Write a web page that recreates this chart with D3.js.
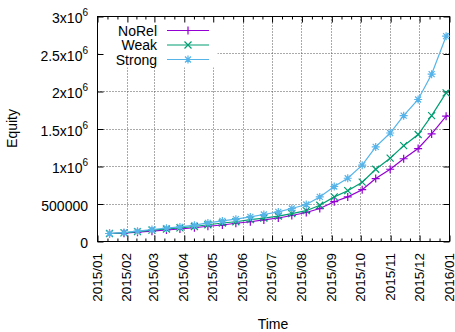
<!DOCTYPE html>
<html>
<head>
<meta charset="utf-8">
<script src="https://cdn.jsdelivr.net/npm/d3@7"></script>
<style>
  body { margin: 0; background: #fff; }
  svg { display: block; font-family: "Liberation Sans", Arial, sans-serif; }
</style>
</head>
<body>
<svg id="chart" width="455" height="332"></svg>
<script>
// Sample dates (roughly every two weeks), last one is the year end
const dates = [
  "2015-01-14", "2015-01-29", "2015-02-12", "2015-02-27", "2015-03-14", "2015-03-28",
  "2015-04-12", "2015-04-26", "2015-05-11", "2015-05-25", "2015-06-09", "2015-06-23",
  "2015-07-08", "2015-07-22", "2015-08-06", "2015-08-20", "2015-09-04", "2015-09-18",
  "2015-10-03", "2015-10-17", "2015-11-01", "2015-11-15", "2015-11-30", "2015-12-14",
  "2015-12-29", "2015-12-31"
];

// Equity series
const noRel = [
  100000, 104000, 117000, 131000, 147000, 160000, 177000, 197000, 213000, 237000,
  257000, 281000, 307000, 340000, 380000, 433000, 524000, 588000, 684000, 833000,
  957000, 1097000, 1233000, 1428000, 1664000, 1677000
];
const weak = [
  100000, 108000, 124000, 144000, 160000, 175000, 193000, 217000, 240000, 257000,
  284000, 304000, 331000, 364000, 404000, 477000, 588000, 671000, 784000, 957000,
  1104000, 1271000, 1420000, 1671000, 1975000, 2011000
];
const strong = [
  100000, 113000, 131000, 153000, 171000, 188000, 211000, 241000, 268000, 291000,
  321000, 353000, 388000, 433000, 487000, 588000, 727000, 837000, 1011000, 1255000,
  1440000, 1671000, 1887000, 2224000, 2731000, 2771000
];

const seriesNames = ["NoRel", "Weak", "Strong"];
const yTicks = [0, 500000, 1000000, 1500000, 2000000, 2500000, 3000000];

const colors = ["#9400d3", "#009e73", "#56b4e9"];
const markerPaths = [
  "M-4,0H4M0,-4V4",
  "M-3.5,-3.5L3.5,3.5M-3.5,3.5L3.5,-3.5",
  "M-4,0H4M0,-4V4M-3,-3L3,3M-3,3L3,-3"
];

const margin = { left: 97, right: 449, top: 16, bottom: 241 };
const parse = d3.timeParse("%Y-%m-%d");

const x = d3.scaleTime()
  .domain([new Date(2015, 0, 1), new Date(2016, 0, 1)])
  .range([margin.left, margin.right]);
const y = d3.scaleLinear()
  .domain([0, 3000000])
  .range([margin.bottom, margin.top]);

const svg = d3.select("#chart");
const g = svg.append("g").attr("transform", "translate(0.5,0.5)");

const months = d3.timeMonth.range(new Date(2015, 0, 1), new Date(2016, 0, 2));

// minor ticks: each month split in thirds
const minorTicks = [];
months.slice(0, -1).forEach((m) => {
  const next = d3.timeMonth.offset(m, 1);
  const span = next - m;
  minorTicks.push(new Date(+m + span / 3), new Date(+m + 2 * span / 3));
});

// grid
const grid = g.append("g").attr("class", "grid")
  .attr("stroke", "#555").attr("stroke-dasharray", "1,2").attr("stroke-width", 1);
months.slice(1, -1).forEach((m) => {
  grid.append("line")
    .attr("x1", Math.round(x(m))).attr("x2", Math.round(x(m)))
    .attr("y1", margin.top).attr("y2", margin.bottom);
});
yTicks.slice(1, -1).forEach((v) => {
  grid.append("line")
    .attr("x1", margin.left).attr("x2", margin.right)
    .attr("y1", Math.round(y(v))).attr("y2", Math.round(y(v)));
});

// legend background covers the grid
g.append("rect")
  .attr("x", margin.left + 1).attr("y", margin.top + 1)
  .attr("width", 119).attr("height", 50)
  .attr("fill", "#fff");

// axes (ticks only, pointing inward)
const styleAxis = (sel) => {
  sel.select(".domain").remove();
  sel.selectAll("text").remove();
  sel.selectAll("line").attr("stroke", "#000");
};
const xTickVals = months.map((m) => new Date(m));
g.append("g").attr("transform", `translate(0,${margin.bottom})`)
  .call(d3.axisBottom(x).tickValues(xTickVals).tickSize(-6)).call(styleAxis);
g.append("g").attr("transform", `translate(0,${margin.bottom})`)
  .call(d3.axisBottom(x).tickValues(minorTicks).tickSize(-3)).call(styleAxis);
g.append("g").attr("transform", `translate(0,${margin.top})`)
  .call(d3.axisTop(x).tickValues(xTickVals).tickSize(-6)).call(styleAxis);
g.append("g").attr("transform", `translate(0,${margin.top})`)
  .call(d3.axisTop(x).tickValues(minorTicks).tickSize(-3)).call(styleAxis);
g.append("g").attr("transform", `translate(${margin.left},0)`)
  .call(d3.axisLeft(y).tickValues(yTicks).tickSize(-6)).call(styleAxis);
g.append("g").attr("transform", `translate(${margin.right},0)`)
  .call(d3.axisRight(y).tickValues(yTicks).tickSize(-6)).call(styleAxis);

// border
g.append("rect")
  .attr("x", margin.left).attr("y", margin.top)
  .attr("width", margin.right - margin.left).attr("height", margin.bottom - margin.top)
  .attr("fill", "none").attr("stroke", "#000").attr("stroke-width", 1);

// y tick labels with exponents
const yLab = svg.append("g").attr("font-size", 14).attr("fill", "#000");
yTicks.forEach((v) => {
  const t = yLab.append("text")
    .attr("x", 88).attr("y", y(v) + 7)
    .attr("text-anchor", "end");
  if (v >= 1000000) {
    t.append("tspan").text(`${v / 1000000}x10`);
    t.append("tspan").attr("font-size", 10).attr("dy", -7).text("6");
  } else {
    t.text(v);
  }
});

// x tick labels, rotated
const fmt = d3.timeFormat("%Y/%m");
const xLab = svg.append("g").attr("font-size", 13.5).attr("fill", "#000");
months.forEach((m) => {
  xLab.append("text")
    .attr("transform", `translate(${x(m) + 4.5},253) rotate(-90)`)
    .attr("text-anchor", "end")
    .text(fmt(m));
});

// axis titles
svg.append("text")
  .attr("x", (margin.left + margin.right) / 2).attr("y", 329)
  .attr("text-anchor", "middle").attr("font-size", 14)
  .text("Time");
svg.append("text")
  .attr("transform", `translate(17,${(margin.top + margin.bottom) / 2}) rotate(-90)`)
  .attr("text-anchor", "middle").attr("font-size", 14)
  .text("Equity");

// series
const allSeries = [noRel, weak, strong];
const line = d3.line()
  .x((d) => x(d.date))
  .y((d) => y(d.value));

allSeries.forEach((vals, i) => {
  const data = vals.map((v, j) => ({ date: parse(dates[j]), value: v }));
  svg.append("path")
    .datum(data)
    .attr("fill", "none")
    .attr("stroke", colors[i])
    .attr("stroke-width", 1.2)
    .attr("d", line);
  svg.append("g").selectAll("path")
    .data(data.slice(0, -1))
    .join("path")
    .attr("transform", (d) => `translate(${x(d.date)},${y(d.value)})`)
    .attr("d", markerPaths[i])
    .attr("stroke", colors[i])
    .attr("stroke-width", 1.2)
    .attr("fill", "none");
});

// legend
const legend = svg.append("g").attr("font-size", 14);
seriesNames.forEach((name, i) => {
  const cy = 30.5 + i * 14.5;
  legend.append("text")
    .attr("x", 157).attr("y", cy + 5)
    .attr("text-anchor", "end")
    .text(name);
  legend.append("line")
    .attr("x1", 167).attr("x2", 209)
    .attr("y1", cy).attr("y2", cy)
    .attr("stroke", colors[i]).attr("stroke-width", 1.2);
  legend.append("path")
    .attr("transform", `translate(188,${cy})`)
    .attr("d", markerPaths[i])
    .attr("stroke", colors[i]).attr("stroke-width", 1.2)
    .attr("fill", "none");
});
</script>
</body>
</html>
